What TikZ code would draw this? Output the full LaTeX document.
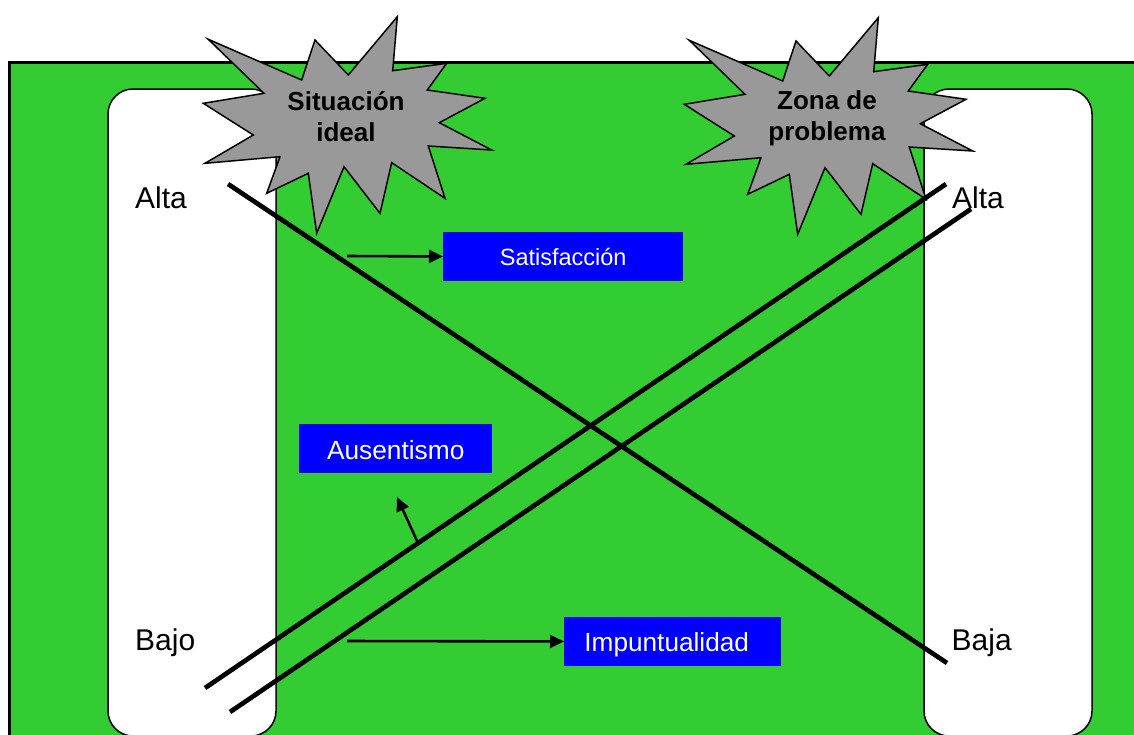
\documentclass[tikz,border=0pt]{standalone}
\usepackage{fontspec}
\setmainfont{Liberation Sans}
\usetikzlibrary{arrows.meta}
\definecolor{field}{HTML}{33CC33}
\definecolor{burst}{HTML}{999999}
\definecolor{tag}{HTML}{0000FF}
\begin{document}
\begin{tikzpicture}[x=1pt,y=-1pt,
  panel/.style={draw=black,line width=1.5pt,fill=white,rounded corners=25pt},
  bar/.style={line width=4.7pt,line cap=butt},
  pointer/.style={line width=2.6pt,-{Triangle[length=14pt,width=13pt]}},
  tagbox/.style={fill=tag,text=white,minimum height=48.5pt,inner sep=0pt,anchor=north west,text depth=0pt},
  scalelabel/.style={anchor=base west,inner sep=0pt,font=\fontsize{30}{36}\selectfont},
  bursttext/.style={align=center,font=\bfseries\fontsize{26}{31}\selectfont,inner sep=0pt},
  starburst/.style={draw=black,line width=1.5pt,fill=burst,line join=miter}]
\useasboundingbox (0,0) rectangle (1134,734);
\clip (0,0) rectangle (1134,734);

% green field with its black frame
\draw[line width=3pt,fill=field] (9,62) rectangle (1160,780);

% white scale panels
\draw[panel] (108,89) rectangle (276,736);
\draw[panel] (924,89) rectangle (1092,736);

% starbursts
\def\burstpath{(208.3,39.3) -- (301.7,80) -- (315,40) -- (348.3,75) -- (397.3,16.7) -- (392.7,70.7) -- (446.7,63.3) -- (427.3,90) -- (485,98.3) -- (439.3,122.7) -- (491.7,150) -- (428.3,146) -- (445,198.3) -- (391.7,162.7) -- (380,213.3) -- (344,166.7) -- (316.7,233.3) -- (308.3,173.3) -- (266.7,193.3) -- (280,156.7) -- (205,163.3) -- (253.3,135) -- (203.3,103.3) -- (264,93.3) -- cycle}
\draw[starburst] \burstpath;
\begin{scope}[shift={(481,1)}]
  \draw[starburst] \burstpath;
\end{scope}
\node[bursttext] (ideal) at (346,117) {Situación\\ideal};
\node[bursttext] (zona) at (827,118) {Zona de\\problema};

% trend lines
\coordinate (c1) at (228,184);
\coordinate (c2) at (947,663);
\coordinate (p1) at (205,688);
\coordinate (p2) at (946,184);
\coordinate (q1) at (230,712);
\coordinate (q2) at (971,209);
\draw[bar] (c1) -- (c2);
\draw[bar] (p1) -- (p2);
\draw[bar] (q1) -- (q2);

% scale labels
\node[scalelabel] (altaL) at (135,208.5) {Alta};
\node[scalelabel] (bajo) at (135,650.7) {Bajo};
\node[scalelabel] (altaR) at (952,208.5) {Alta};
\node[scalelabel] (baja) at (951.5,650.7) {Baja};

% indicator boxes
\node[tagbox,minimum width=240pt,text height=17.4pt,font=\fontsize{23.5}{28}\selectfont] (sat) at (443,232) {Satisfacción};
\node[tagbox,minimum width=193pt,text height=22pt,font=\fontsize{26.3}{31}\selectfont] (aus) at (299,424) {Ausentismo};
\node[tagbox,minimum width=217pt,text height=20.8pt,font=\fontsize{26.2}{31}\selectfont] (imp) at (564,617) {\hbox{Impuntualidad\kern12pt}};

% pointers
\coordinate (s0) at (347,256);
\coordinate (i0) at (347,641);
\coordinate (a0) at (418,543);
\coordinate (a1) at (397,497);
\draw[pointer] (s0) -- (sat.west);
\draw[pointer] (i0) -- (imp.west);
\draw[pointer] (a0) -- (a1);
\end{tikzpicture}
\end{document}
